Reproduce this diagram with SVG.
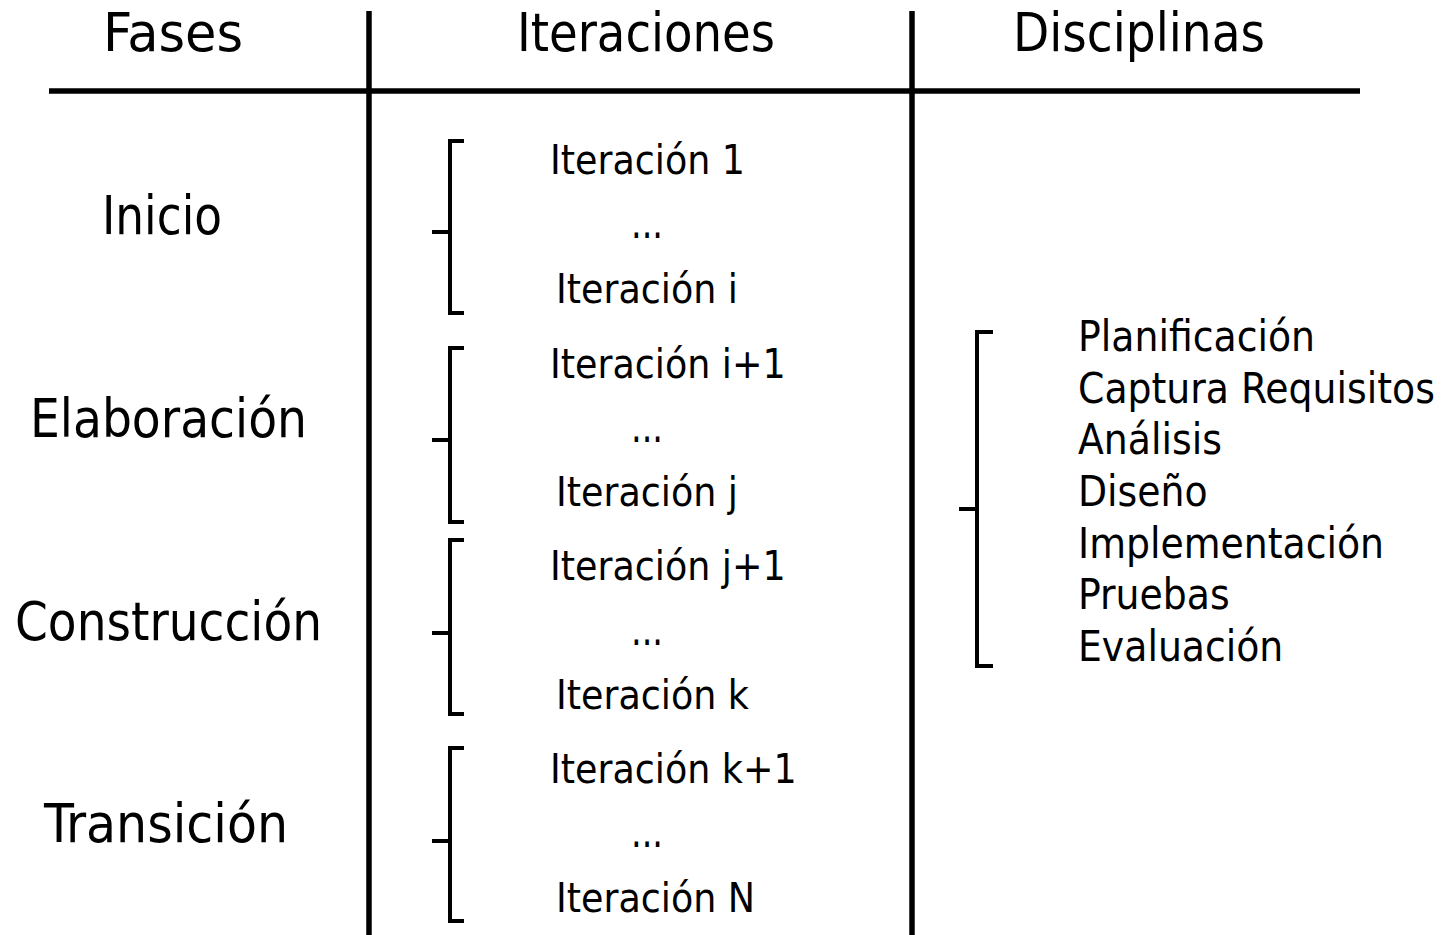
<svg xmlns="http://www.w3.org/2000/svg" width="1445" height="935" viewBox="0 0 1445 935">
<style>
text{font-family:"DejaVu Sans Condensed","DejaVu Sans","Liberation Sans",sans-serif;fill:#000}
.h{font-size:53px}
.it{font-size:40.5px}
.d{font-size:42px}
.dots{font-size:44px}
.rule{stroke:#000;stroke-width:5.5;fill:none}
.br{stroke:#000;stroke-width:4;fill:none}
</style>
<rect width="1445" height="935" fill="#fff"/>
<g id="connectors">
<line class="rule" x1="49" y1="91" x2="1360" y2="91"/>
<line class="rule" x1="369" y1="11" x2="369" y2="935"/>
<line class="rule" x1="912" y1="11" x2="912" y2="935"/>
<path class="br" d="M464,141 H450 V313 H464 M432,232 H450"/>
<path class="br" d="M464,348 H450 V522 H464 M432,440 H450"/>
<path class="br" d="M464,540 H450 V714 H464 M432,633 H450"/>
<path class="br" d="M464,748 H450 V921 H464 M432,841 H450"/>
<path class="br" d="M993,332 H977 V666 H993 M959,509 H977"/>
</g>
<g id="headers">
<text class="h" x="103" y="51" textLength="140" lengthAdjust="spacingAndGlyphs">Fases</text>
<text class="h" x="517" y="51" textLength="258" lengthAdjust="spacingAndGlyphs">Iteraciones</text>
<text class="h" x="1013" y="51" textLength="252" lengthAdjust="spacingAndGlyphs">Disciplinas</text>
</g>
<g id="phases">
<text class="h" x="102" y="234" textLength="120" lengthAdjust="spacingAndGlyphs">Inicio</text>
<text class="h" x="30" y="437" textLength="277" lengthAdjust="spacingAndGlyphs">Elaboración</text>
<text class="h" x="15" y="640" textLength="307" lengthAdjust="spacingAndGlyphs">Construcción</text>
<text class="h" x="44" y="842" textLength="244" lengthAdjust="spacingAndGlyphs">Transición</text>
</g>
<g id="iter-inicio">
<text class="it" x="550" y="174">Iteración 1</text>
<text class="dots" x="631" y="238" textLength="32" lengthAdjust="spacingAndGlyphs">...</text>
<text class="it" x="556" y="303">Iteración i</text>
</g>
<g id="iter-elaboracion">
<text class="it" x="550" y="378">Iteración i+1</text>
<text class="dots" x="631" y="442" textLength="32" lengthAdjust="spacingAndGlyphs">...</text>
<text class="it" x="556" y="506">Iteración j</text>
</g>
<g id="iter-construccion">
<text class="it" x="550" y="580">Iteración j+1</text>
<text class="dots" x="631" y="645" textLength="32" lengthAdjust="spacingAndGlyphs">...</text>
<text class="it" x="556" y="709">Iteración k</text>
</g>
<g id="iter-transicion">
<text class="it" x="550" y="783">Iteración k+1</text>
<text class="dots" x="631" y="847" textLength="32" lengthAdjust="spacingAndGlyphs">...</text>
<text class="it" x="556" y="912">Iteración N</text>
</g>
<g id="disciplinas">
<text class="d" x="1078" y="351">Planificación</text>
<text class="d" x="1078" y="403">Captura Requisitos</text>
<text class="d" x="1078" y="454">Análisis</text>
<text class="d" x="1078" y="506">Diseño</text>
<text class="d" x="1078" y="558">Implementación</text>
<text class="d" x="1078" y="609">Pruebas</text>
<text class="d" x="1078" y="661">Evaluación</text>
</g>
</svg>
